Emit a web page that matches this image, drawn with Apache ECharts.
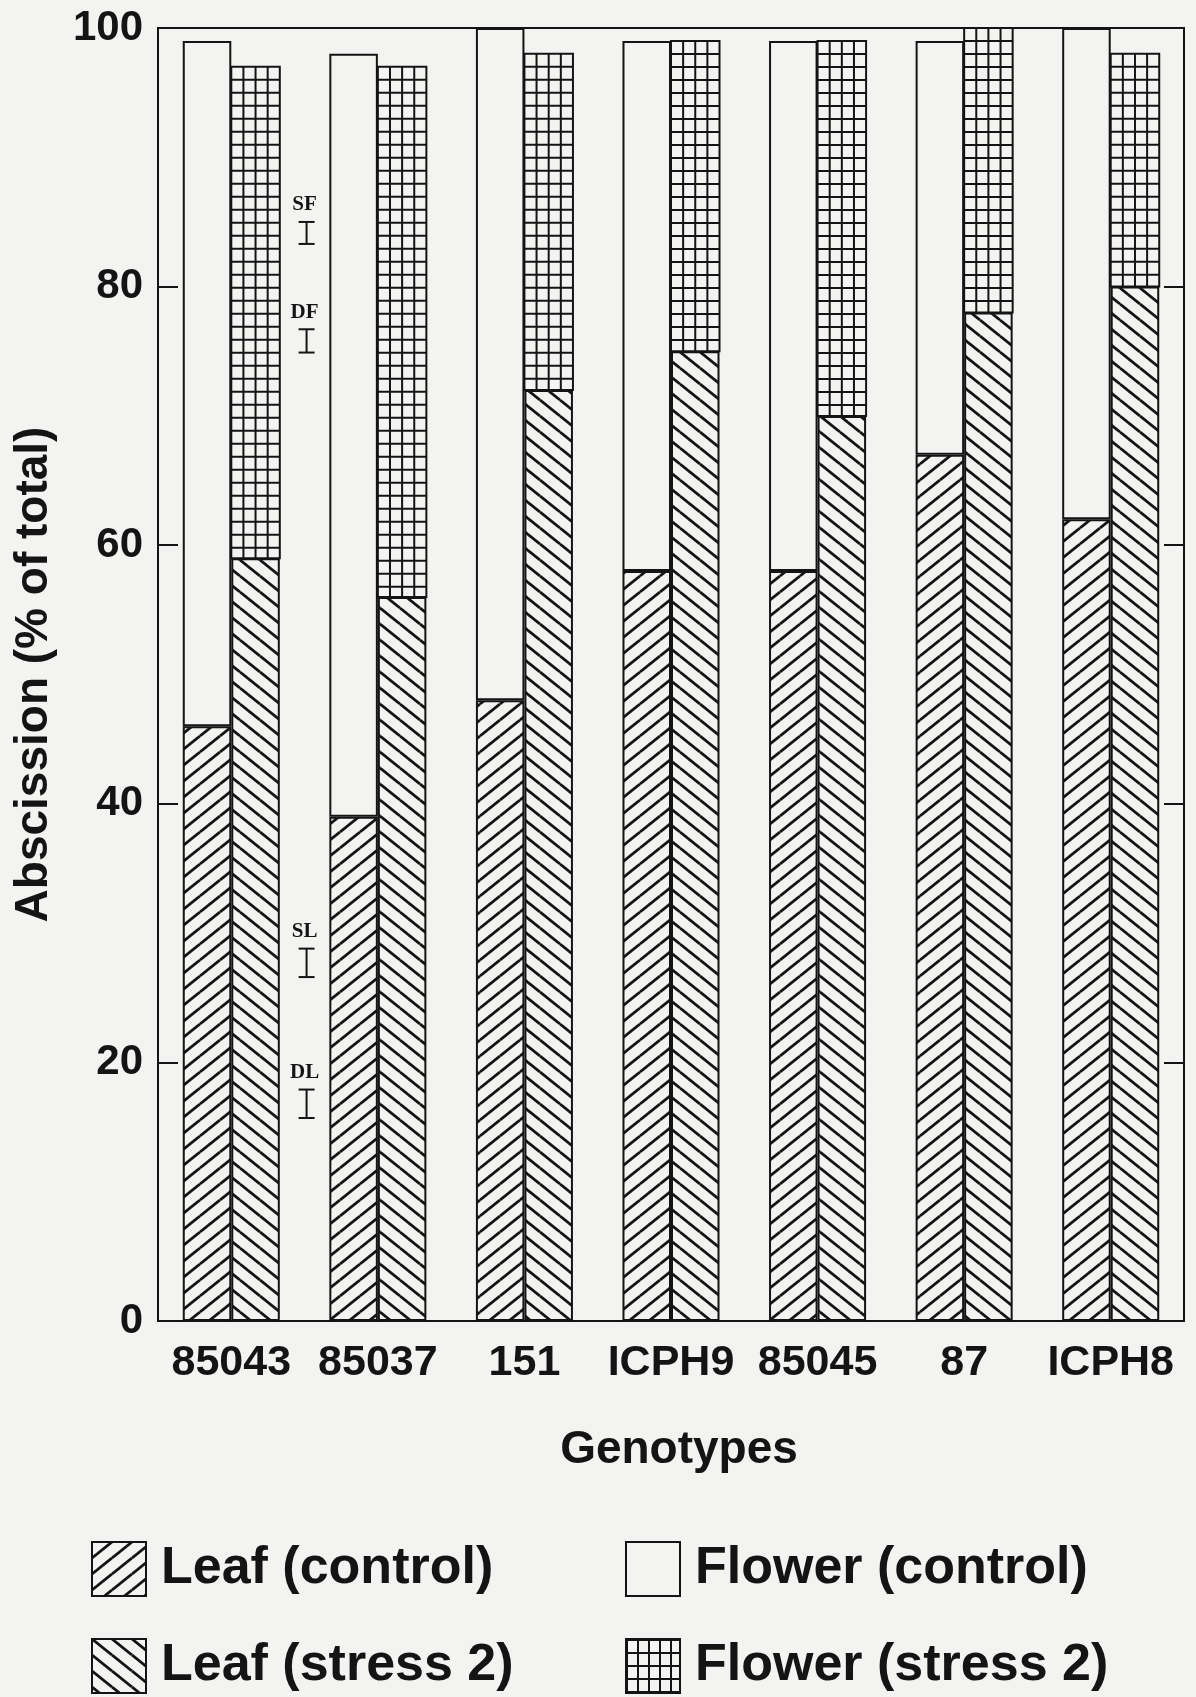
<!DOCTYPE html>
<html>
<head>
<meta charset="utf-8">
<script src="https://cdn.jsdelivr.net/npm/echarts/dist/echarts.min.js"></script>
<style>
  html, body { margin: 0; padding: 0; background: #f3f3f1; }
  #chart { width: 1196px; height: 1697px; }
</style>
</head>
<body>
<div id="chart"></div>
<script>
// ---- data ----
const genotypes = ['85043', '85037', '151', 'ICPH9', '85045', '87', 'ICPH8'];
const leafControl   = [46, 39, 48, 58, 58, 67, 62];
const flowerControl = [53, 59, 52, 41, 41, 32, 38];
const leafStress    = [59, 56, 72, 75, 70, 78, 80];
const flowerStress  = [38, 41, 26, 24, 29, 22, 18];
const yTicks = [0, 20, 40, 60, 80, 100];
const lsdLabels = ['SF', 'DF', 'SL', 'DL'];
const lsdLow    = [83.3, 74.9, 26.6, 15.7];
const lsdHigh   = [85.0, 76.7, 28.8, 17.9];
const seriesNames = ['Leaf (control)', 'Flower (control)', 'Leaf (stress 2)', 'Flower (stress 2)'];

// ---- styles ----
const BG = '#f3f3f1';
const INK = '#141414';
const SANS = '"Liberation Sans", Arial, Helvetica, sans-serif';
const SERIF = '"Liberation Serif", "DejaVu Serif", serif';
const GAP = 0.338;

function hatch(dir, w, h, lw) {
  const c = document.createElement('canvas');
  c.width = w; c.height = h;
  const g = c.getContext('2d');
  g.fillStyle = BG; g.fillRect(0, 0, w, h);
  g.strokeStyle = INK; g.lineWidth = lw;
  [[0,0],[-w,0],[w,0],[0,-h],[0,h]].forEach(([dx, dy]) => {
    g.beginPath();
    if (dir > 0) { g.moveTo(dx, h + dy); g.lineTo(w + dx, dy); }
    else { g.moveTo(dx, dy); g.lineTo(w + dx, h + dy); }
    g.stroke();
  });
  return { image: c, repeat: 'repeat' };
}
function gridPat(w, h, lw) {
  const c = document.createElement('canvas');
  c.width = w; c.height = h;
  const g = c.getContext('2d');
  g.fillStyle = BG; g.fillRect(0, 0, w, h);
  g.fillStyle = INK;
  g.fillRect(0, 0, lw, h);
  g.fillRect(0, 0, w, lw);
  return { image: c, repeat: 'repeat' };
}
const patSlash = hatch(1, 20, 16, 2.8);
const patBack = hatch(-1, 20, 16, 2.8);
const patGrid = gridPat(11, 13, 2);

const chart = echarts.init(document.getElementById('chart'), null, { renderer: 'canvas' });

const legendCommon = {
  orient: 'horizontal', itemWidth: 54, itemHeight: 54, itemGap: 0, padding: 0,
  selectedMode: false,
  textStyle: { fontSize: 52, fontWeight: 'bold', color: INK, fontFamily: SANS, padding: [0, 0, 0, 10] }
};
function legendItem(name, color) {
  return { name: name, icon: 'rect', itemStyle: { color: color, borderColor: INK, borderWidth: 2 } };
}

const option = {
  backgroundColor: BG,
  animation: false,
  grid: {
    left: 158, right: 12, top: 28, bottom: 376,
    show: true, borderColor: INK, borderWidth: 2, backgroundColor: 'transparent',
    outerBoundsMode: 'none'
  },
  legend: [
    Object.assign({ left: 91, top: 1541, data: [legendItem(seriesNames[0], patSlash)] }, legendCommon),
    Object.assign({ left: 625, top: 1541, data: [legendItem(seriesNames[1], BG)] }, legendCommon),
    Object.assign({ left: 91, top: 1638, data: [legendItem(seriesNames[2], patBack)] }, legendCommon),
    Object.assign({ left: 625, top: 1638, data: [legendItem(seriesNames[3], patGrid)] }, legendCommon)
  ],
  xAxis: {
    type: 'category',
    data: genotypes,
    name: 'Genotypes',
    nameLocation: 'middle',
    nameGap: 106,
    nameTextStyle: { fontSize: 46, fontWeight: 'bold', color: INK, fontFamily: SANS, padding: [0, 0, 0, 16] },
    axisLine: { show: true, lineStyle: { color: INK, width: 2 } },
    axisTick: { show: false },
    axisLabel: { fontSize: 43, fontWeight: 'bold', color: INK, fontFamily: SANS, margin: 21, interval: 0 }
  },
  yAxis: [
    {
      type: 'value', min: yTicks[0], max: yTicks[yTicks.length - 1], interval: 20,
      name: 'Abscission (% of total)',
      nameLocation: 'middle', nameGap: 101,
      nameTextStyle: { fontSize: 46, fontWeight: 'bold', color: INK, fontFamily: SANS },
      axisLine: { show: true, lineStyle: { color: INK, width: 2 } },
      axisTick: { show: true, inside: true, length: 20, lineStyle: { color: INK, width: 2 } },
      axisLabel: { fontSize: 42, fontWeight: 'bold', color: INK, fontFamily: SANS, margin: 15 },
      splitLine: { show: false }
    },
    {
      type: 'value', min: yTicks[0], max: yTicks[yTicks.length - 1], interval: 20,
      position: 'right',
      axisLine: { show: true, lineStyle: { color: INK, width: 2 } },
      axisTick: { show: true, inside: true, length: 20, lineStyle: { color: INK, width: 2 } },
      axisLabel: { show: false },
      splitLine: { show: false }
    }
  ],
  series: [
    {
      name: seriesNames[0], type: 'bar', stack: 'control', data: leafControl,
      barGap: '0%', barCategoryGap: (GAP * 100) + '%',
      itemStyle: { color: patSlash, borderColor: INK, borderWidth: 2 }
    },
    {
      name: seriesNames[1], type: 'bar', stack: 'control', data: flowerControl,
      barGap: '0%', barCategoryGap: (GAP * 100) + '%',
      itemStyle: { color: BG, borderColor: INK, borderWidth: 2 }
    },
    {
      name: seriesNames[2], type: 'bar', stack: 'stress', data: leafStress,
      barGap: '0%', barCategoryGap: (GAP * 100) + '%',
      itemStyle: { color: patBack, borderColor: INK, borderWidth: 2 }
    },
    {
      name: seriesNames[3], type: 'custom',
      data: genotypes.map((g, i) => [i, leafStress[i], leafStress[i] + flowerStress[i]]),
      renderItem: function (params, api) {
        const i = api.value(0);
        const band = api.size([1, 0])[0];
        const bw = band * (1 - GAP) / 2;
        const pTop = api.coord([i, api.value(2)]);
        const pBase = api.coord([i, api.value(1)]);
        const x0 = pTop[0], x1 = pTop[0] + bw, y0 = pTop[1], y1 = pBase[1];
        const children = [{
          type: 'rect', shape: { x: x0, y: y0, width: bw, height: y1 - y0 },
          style: { fill: BG, stroke: null }
        }];
        for (let k = 1; k < 4; k++) {
          const x = x0 + k * bw / 4;
          children.push({ type: 'line', shape: { x1: x, y1: y0, x2: x, y2: y1 }, style: { stroke: INK, lineWidth: 2 } });
        }
        for (let y = y0 + 13; y < y1 - 3; y += 13) {
          children.push({ type: 'line', shape: { x1: x0, y1: y, x2: x1, y2: y }, style: { stroke: INK, lineWidth: 2 } });
        }
        children.push({
          type: 'rect', shape: { x: x0, y: y0, width: bw, height: y1 - y0 },
          style: { fill: null, stroke: INK, lineWidth: 2 }
        });
        return { type: 'group', children: children };
      },
      z: 3
    },
    {
      name: 'LSD', type: 'custom',
      data: lsdLabels.map((l, i) => [0, lsdLow[i], lsdHigh[i]]),
      renderItem: function (params, api) {
        const band = api.size([1, 0])[0];
        const pLo = api.coord([api.value(0), api.value(1)]);
        const pHi = api.coord([api.value(0), api.value(2)]);
        const x = pLo[0] + band / 2 + 2;
        const cap = 8;
        return {
          type: 'group',
          children: [
            { type: 'line', shape: { x1: x, y1: pHi[1], x2: x, y2: pLo[1] }, style: { stroke: INK, lineWidth: 2 } },
            { type: 'line', shape: { x1: x - cap, y1: pHi[1], x2: x + cap, y2: pHi[1] }, style: { stroke: INK, lineWidth: 2 } },
            { type: 'line', shape: { x1: x - cap, y1: pLo[1], x2: x + cap, y2: pLo[1] }, style: { stroke: INK, lineWidth: 2 } },
            { type: 'text', style: {
                text: lsdLabels[params.dataIndex], x: x - 2, y: pHi[1] - 17,
                align: 'center', verticalAlign: 'middle',
                font: 'bold 21px ' + SERIF, fill: INK
              } }
          ]
        };
      },
      z: 4
    }
  ]
};
chart.setOption(option);
</script>
</body>
</html>
